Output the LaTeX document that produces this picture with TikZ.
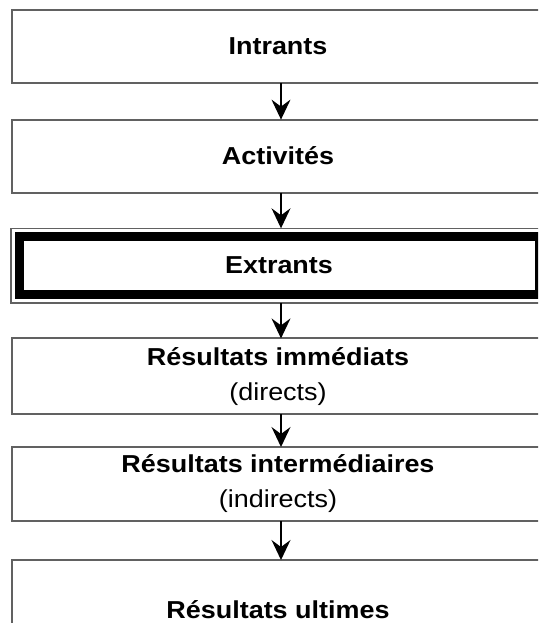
\documentclass[tikz,border=0pt]{standalone}
\usepackage{fontspec}
\setmainfont{Liberation Sans}
\usetikzlibrary{arrows.meta,fit}
% slightly widened lettering
\newcommand\wtxt[1]{\scalebox{1.1}[1]{#1}}
\begin{document}
\begin{tikzpicture}[x=1pt,y=-1pt,
  stage/.style={draw=black!62, line width=2pt, fill=white,
    minimum width=532pt, outer sep=0pt, inner sep=0pt, align=center,
    anchor=north west, font=\fontsize{24.5}{35}\selectfont},
  keystage/.style={stage, draw=black, line width=9pt, minimum width=520pt},
  link/.style={line width=1.3pt, -{Stealth[length=20pt,width=19pt,inset=7pt]}}]
\useasboundingbox (0,0) rectangle (538,623);
\clip (0,0) rectangle (538,623);
\coordinate (ax) at (281,0);

% chain of stages
\node[stage, minimum height=73.4pt] (in) at (12,9.6) {\wtxt{\bfseries Intrants}};
\node[stage, minimum height=73pt] (ac) at (12,119.6) {\wtxt{\bfseries Activités}};
\node[keystage, minimum height=58.5pt] (ex) at (19,236.3) {\wtxt{\bfseries Extrants}};
\node[fit=(ex), inner sep=8pt, draw=black!62, line width=1.5pt, outer sep=0pt] (exf) {};
\node[stage, minimum height=75.6pt] (ri) at (12,338.4)
  {\wtxt{\bfseries Résultats immédiats}\\\wtxt{(directs)}};
\node[stage, minimum height=74pt] (rm) at (12,447)
  {\wtxt{\bfseries Résultats intermédiaires}\\\wtxt{(indirects)}};
\node[stage, minimum height=100pt] (ru) at (12,560) {\wtxt{\bfseries Résultats ultimes}};

% connectors
\draw[link] (in.south -| ax) -- (ac.north -| ax);
\draw[link] (ac.south -| ax) -- (exf.north -| ax);
\draw[link] (exf.south -| ax) -- (ri.north -| ax);
\draw[link] (ri.south -| ax) -- (rm.north -| ax);
\draw[link] (rm.south -| ax) -- (ru.north -| ax);
\end{tikzpicture}
\end{document}
